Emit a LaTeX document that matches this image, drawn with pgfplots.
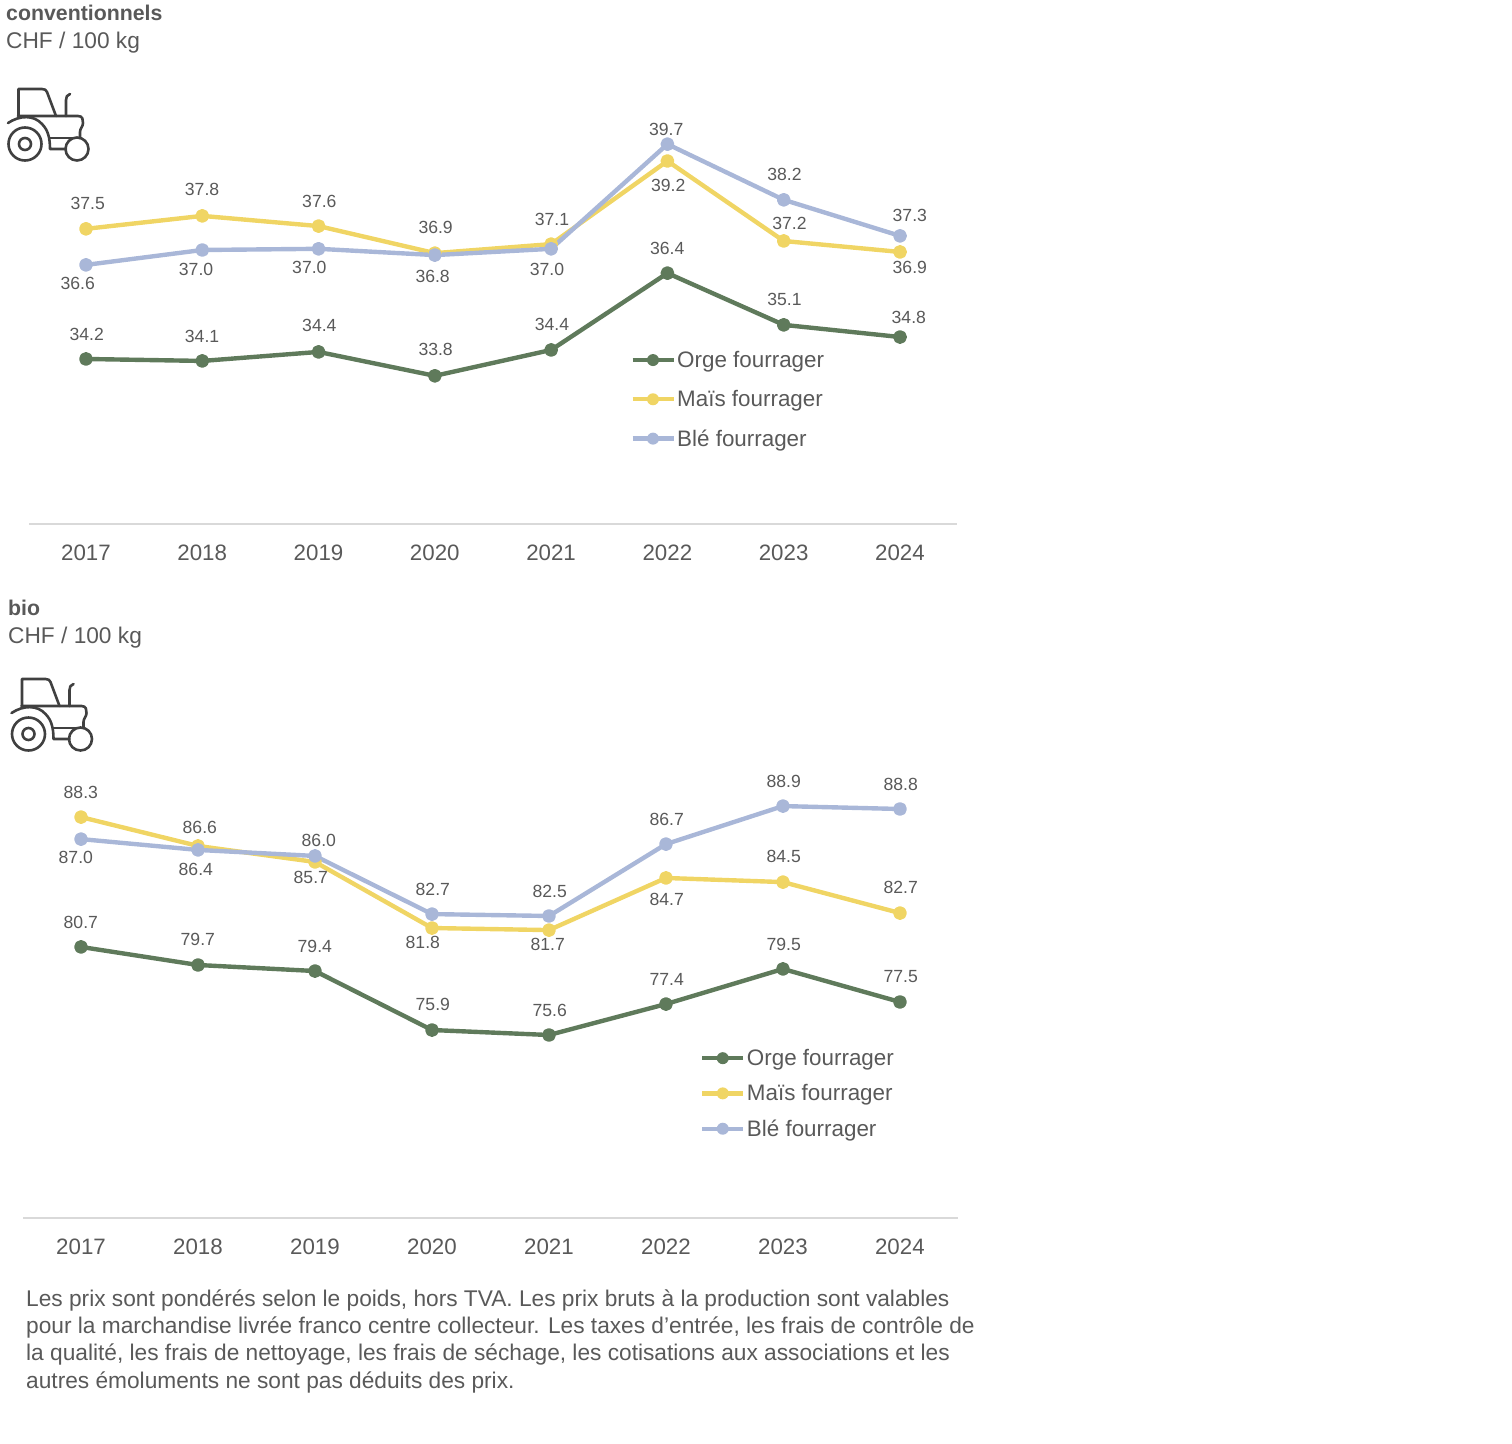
\documentclass[border=0pt]{standalone}
\usepackage{fontspec}
\usepackage{pgfplots}
\usepackage{pgfplotstable}
\pgfplotsset{compat=1.18}
\setmainfont{Liberation Sans}

\definecolor{orge}{HTML}{5F7A5B}
\definecolor{mais}{HTML}{F0D564}
\definecolor{ble}{HTML}{A9B7D8}
\definecolor{txt}{HTML}{595959}
\definecolor{rule}{HTML}{D9D9D9}
\definecolor{icon}{HTML}{404040}

% year, value, printed label, label offset in px from the point
\pgfplotstableread{
year val lab dx dy
2017 34.21 34.2 0 25
2018 34.16 34.1 -1 24
2019 34.39 34.4 0 26
2020 33.78 33.8 0 26
2021 34.44 34.4 0 26
2022 36.40 36.4 -1 25
2023 35.08 35.1 0 25
2024 34.77 34.8 8 20
}\topOrge
\pgfplotstableread{
year val lab dx dy
2017 37.53 37.5 1 25
2018 37.86 37.8 -1 26
2019 37.60 37.6 0 25
2020 36.91 36.9 0 26
2021 37.14 37.1 0 25
2022 39.26 39.2 0 -24
2023 37.22 37.2 5 18
2024 36.94 36.9 9 -15
}\topMais
\pgfplotstableread{
year val lab dx dy
2017 36.61 36.6 -9 -19
2018 36.99 37.0 -7 -19
2019 37.02 37.0 -10 -19
2020 36.86 36.8 -3 -21
2021 37.02 37.0 -5 -21
2022 39.69 39.7 -2 15
2023 38.27 38.2 0 25
2024 37.35 37.3 9 20
}\topBle
\pgfplotstableread{
year val lab dx dy
2017 80.76 80.7 -1 25
2018 79.71 79.7 -1 26
2019 79.36 79.4 -1 25
2020 75.93 75.9 0 26
2021 75.64 75.6 0 25
2022 77.44 77.4 0 25
2023 79.48 79.5 0 25
2024 77.56 77.5 0 25
}\botOrge
\pgfplotstableread{
year val lab dx dy
2017 88.31 88.3 -1 25
2018 86.63 86.6 1 19
2019 85.70 85.7 -5 -15
2020 81.86 81.8 -10 -14
2021 81.74 81.7 -2 -14
2022 84.77 84.7 0 -21
2023 84.53 84.5 0 26
2024 82.73 82.7 0 26
}\botMais
\pgfplotstableread{
year val lab dx dy
2017 87.03 87.0 -6 -18
2018 86.40 86.4 -3 -20
2019 86.05 86.0 3 16
2020 82.67 82.7 0 25
2021 82.56 82.5 0 25
2022 86.74 86.7 0 25
2023 88.95 88.9 0 25
2024 88.78 88.8 0 25
}\botBle

\pgfplotsset{
  prices/.style={
    scale only axis, anchor=south west, clip=false,
    hide y axis, axis x line*=bottom,
    x axis line style={draw=rule, line width=1.3pt},
    xtick={2017,...,2024}, xtick style={draw=none},
    xticklabel style={text=txt, font=\fontsize{22.3}{24}\selectfont, yshift=-17.5pt},
    /pgf/number format/assume math mode=true,
    /pgf/number format/1000 sep={},
    legend cell align=left,
    legend style={draw=none, fill=none, row sep=#1, font=\fontsize{22.4}{25}\selectfont, text=txt, nodes={inner xsep=1.5pt, inner ysep=0pt}},
    legend image code/.code={
      \draw[##1, mark=none] (0pt,0pt) -- (41pt,0pt);
      \fill[##1, draw=none] (20.5pt,0pt) circle (6pt);
    },
  },
  priceline/.style={color=#1, line width=4.4pt, mark=*, mark size=4.7pt, mark options={fill=#1, draw=none}, line join=round},
}

\newcommand{\series}[2]{
  \addplot[priceline=#1] table[x=year,y=val] {#2};
  \addplot[forget plot, draw=none, mark=none, nodes near coords, point meta=explicit symbolic,
    visualization depends on={\thisrow{dx} \as \lblx},
    visualization depends on={\thisrow{dy} \as \lbly},
    nodes near coords style={anchor=center, inner sep=0pt, text=txt,
      font=\fontsize{17.6}{19}\selectfont, xshift=\lblx pt + 0.8pt, yshift=\lbly pt}]
    table[x=year,y=val,meta=lab] {#2};
}

\newcommand{\tractor}[2]{
  \begin{scope}[shift={(#1,#2)}, draw=icon, line width=2.6pt, line cap=round, line join=round]
    \draw (18.5,116) -- (18.5,89) -- (42,89) .. controls (45,89) and (46,90) .. (47,92) -- (56,116);
    \draw (18,116) -- (78,116) .. controls (83,116) and (83,120) .. (83,123) .. controls (83,127) and (80,128) .. (80,132) -- (80,138);
    \draw (66,116) -- (66,100) .. controls (66,97) and (67,95) .. (70,94);
    \draw (8,123) .. controls (20,115) and (34,115) .. (42,124) .. controls (48,130) and (50,138) .. (50,149) -- (66,149);
    \draw (50,138) -- (80,138);
    \draw (25,144) circle (16.5pt);
    \draw (25,144) circle (6pt);
    \draw (77,149) circle (11.5pt);
  \end{scope}
}

\begin{document}
\begin{tikzpicture}[x=1pt,y=-1pt]
\path[use as bounding box] (0,0) rectangle (1512,1443);

\begin{axis}[prices=21.5pt, at={(29pt,-524pt)}, width=928pt, height=470.4pt,
    xmin=2016.51, xmax=2024.49, ymin=30, ymax=42,
    legend style={at={(0.6445,0.372)}, anchor=north west}]
  \series{orge}{\topOrge}
  \series{mais}{\topMais}
  \series{ble}{\topBle}
  \legend{Orge fourrager,Maïs fourrager,Blé fourrager}
\end{axis}

\begin{axis}[prices=17.5pt, at={(23pt,-1218pt)}, width=935pt, height=464.4pt,
    xmin=2016.504, xmax=2024.496, ymin=65, ymax=92,
    legend style={at={(0.7207,0.368)}, anchor=north west}]
  \series{orge}{\botOrge}
  \series{mais}{\botMais}
  \series{ble}{\botBle}
  \legend{Orge fourrager,Maïs fourrager,Blé fourrager}
\end{axis}

\tractor{0}{0}
\tractor{3.5}{590}

\begin{scope}[every node/.style={anchor=base west, inner sep=0pt, text=txt, font=\fontsize{22.7}{25}\selectfont}]
  \node[font=\fontsize{21.3}{25}\selectfont\bfseries] at (6,20) {conventionnels};
  \node at (6,48) {CHF / 100 kg};
  \node[font=\fontsize{21.3}{25}\selectfont\bfseries] at (8,615) {bio};
  \node at (8,643) {CHF / 100 kg};
  \node at (26,1306) {Les prix sont pondérés selon le poids, hors TVA. Les prix bruts à la production sont valables};
  \node at (26,1333) {pour la marchandise livrée franco centre collecteur. Les taxes d’entrée, les frais de contrôle de};
  \node at (26,1360) {la qualité, les frais de nettoyage, les frais de séchage, les cotisations aux associations et les};
  \node at (26,1388) {autres émoluments ne sont pas déduits des prix.};
\end{scope}
\end{tikzpicture}
\end{document}
